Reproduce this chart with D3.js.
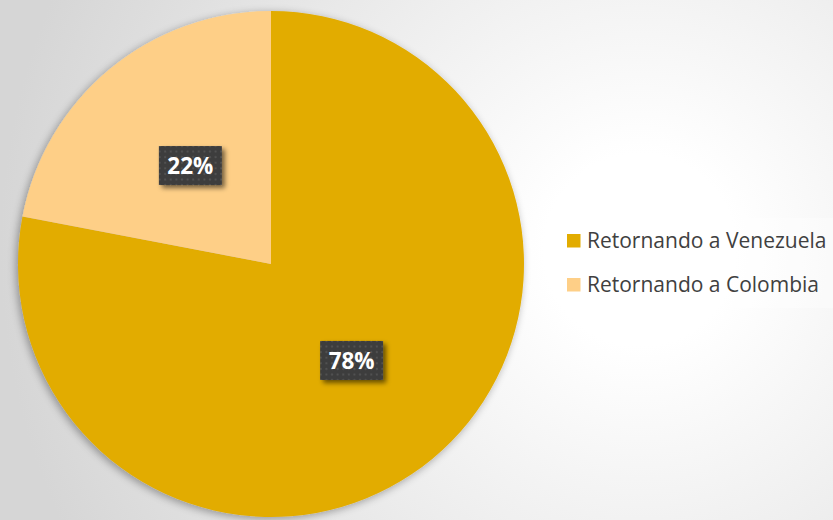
<!DOCTYPE html>
<html><head><meta charset="utf-8">
<script src="https://cdn.jsdelivr.net/npm/d3@7"></script>
<style>html,body{margin:0;padding:0;overflow:hidden;}</style>
</head><body>
<svg id="chart" width="833" height="520"></svg>
<script>
const categories = ["Retornando a Venezuela", "Retornando a Colombia"];
const values = [78, 22];
const colors = ["#E2AC00", "#FECF87"];

const svg = d3.select("#chart");
const W = 833, H = 520;
const defs = svg.append("defs");

const bg = defs.append("radialGradient").attr("id","bg")
  .attr("gradientUnits","userSpaceOnUse").attr("cx",640).attr("cy",250).attr("r",640);
bg.append("stop").attr("offset","0").attr("stop-color","#ffffff");
bg.append("stop").attr("offset","0.15").attr("stop-color","#ffffff");
bg.append("stop").attr("offset","1").attr("stop-color","#d6d6d6");
svg.append("rect").attr("width",W).attr("height",H).attr("fill","url(#bg)");

const pieShadow = defs.append("filter").attr("id","pieShadow").attr("x","-20%").attr("y","-20%").attr("width","140%").attr("height","140%");
pieShadow.append("feGaussianBlur").attr("in","SourceAlpha").attr("stdDeviation",4).attr("result","b");
pieShadow.append("feOffset").attr("in","b").attr("dx",-2).attr("dy",2).attr("result","o");
pieShadow.append("feComponentTransfer").attr("in","o").attr("result","s").append("feFuncA").attr("type","linear").attr("slope",0.35);
const m1 = pieShadow.append("feMerge"); m1.append("feMergeNode").attr("in","s"); m1.append("feMergeNode").attr("in","SourceGraphic");

const lblShadow = defs.append("filter").attr("id","lblShadow").attr("x","-30%").attr("y","-30%").attr("width","160%").attr("height","160%");
lblShadow.append("feGaussianBlur").attr("in","SourceAlpha").attr("stdDeviation",2.5).attr("result","b");
lblShadow.append("feOffset").attr("in","b").attr("dx",3).attr("dy",3).attr("result","o");
lblShadow.append("feComponentTransfer").attr("in","o").attr("result","s").append("feFuncA").attr("type","linear").attr("slope",0.55);
const m2 = lblShadow.append("feMerge"); m2.append("feMergeNode").attr("in","s"); m2.append("feMergeNode").attr("in","SourceGraphic");

const pat = defs.append("pattern").attr("id","dots").attr("patternUnits","userSpaceOnUse").attr("width",5.6).attr("height",5.6);
pat.append("rect").attr("width",5.6).attr("height",5.6).attr("fill","#3d3d3d");
pat.append("rect").attr("x",1.8).attr("y",1.8).attr("width",2).attr("height",2).attr("fill","#515151");

const cx = 271, cy = 264, r = 253;
const pie = d3.pie().sort(null).value(d => d);
const arcs = pie(values);
const arc = d3.arc().innerRadius(0).outerRadius(r);

const g = svg.append("g").attr("transform",`translate(${cx},${cy})`);
g.append("g").attr("filter","url(#pieShadow)").selectAll("path").data(arcs).enter().append("path")
  .attr("d",arc).attr("fill",(d,i)=>colors[i]).attr("stroke","none");

const total = d3.sum(values);
const lbl = g.selectAll("g.lbl").data(arcs).enter().append("g").attr("class","lbl")
  .attr("transform",d=>{const c=arc.centroid(d);return `translate(${c[0]},${c[1]-1})`;});
lbl.append("rect").attr("x",-31.5).attr("y",-19.5).attr("width",63).attr("height",39)
  .attr("fill","url(#dots)").attr("filter","url(#lblShadow)");
lbl.append("text").attr("text-anchor","middle").attr("dy","0.36em")
  .attr("font-family","'Open Sans', 'Noto Sans', sans-serif").attr("font-weight","bold").attr("font-size",22.5)
  .attr("fill","#ffffff").text(d=>Math.round(d.data/total*100)+"%");

// legend
const lg = svg.append("g");
lg.append("rect").attr("x",553).attr("y",218).attr("width",280).attr("height",90).attr("fill","#ffffff").attr("opacity",0.35);
const items = lg.selectAll("g.it").data(categories).enter().append("g").attr("class","it")
  .attr("transform",(d,i)=>`translate(567,${241+i*44})`);
items.append("rect").attr("x",0).attr("y",-7).attr("width",13.5).attr("height",13.5).attr("fill",(d,i)=>colors[i]);
items.append("text").attr("x",20).attr("dy","0.35em")
  .attr("font-family","'Open Sans', 'Noto Sans', sans-serif").attr("font-size",21).attr("fill","#404040").text(d=>d);
</script>
</body></html>
